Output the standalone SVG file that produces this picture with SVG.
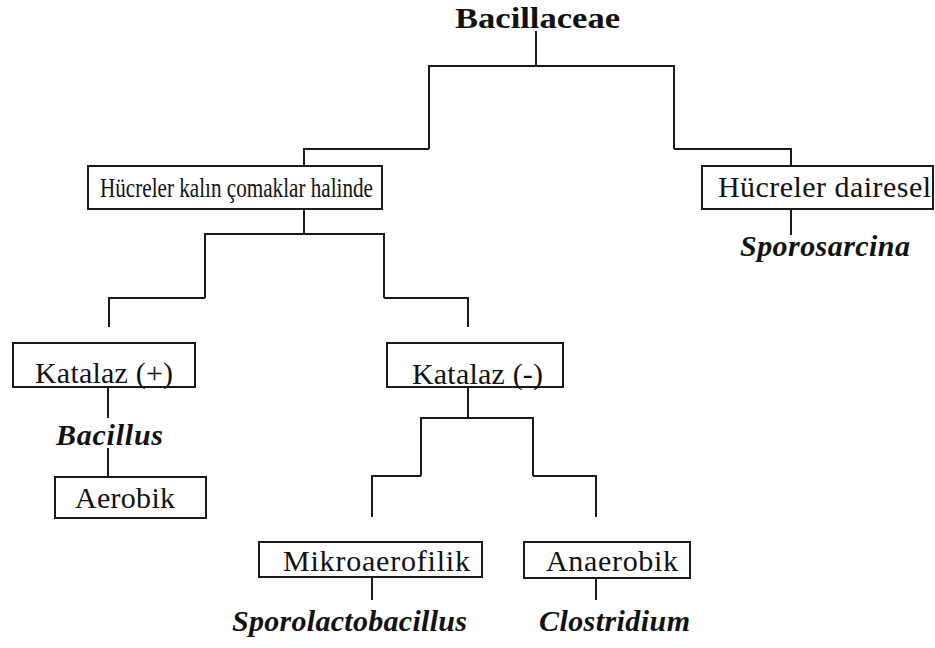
<svg xmlns="http://www.w3.org/2000/svg" width="935" height="648" viewBox="0 0 935 648">
<style>
.bx{fill:#fff;stroke:#1a1a1a;stroke-width:2}
.t{font-family:"Liberation Serif","Times New Roman",serif;font-size:30px;fill:#111}
.g{font-family:"Liberation Serif","Times New Roman",serif;font-size:30px;font-style:italic;font-weight:bold;fill:#111}
.ttl{font-family:"Liberation Serif","Times New Roman",serif;font-size:29px;font-weight:bold;fill:#111}
.c{fill:none;stroke:#1a1a1a;stroke-width:2}
</style>
<rect width="935" height="648" fill="#fff"/>
<g id="connectors">
<path class="c" d="M536,31V66M429,149V66H674V149M304,166V149H429M674,149H791V166"/>
<path class="c" d="M304,209V234M205,298V234H384V298M109,327V298H205M384,298H468V327"/>
<path class="c" d="M791,209V235"/>
<path class="c" d="M108,387V418M108,448V477"/>
<path class="c" d="M468,387V418M421,476V418H533V476M372,517V476H421M533,476H596V517"/>
<path class="c" d="M372,577V600M596,578V600"/>
</g>
<g id="bacillaceae"><text class="ttl" x="455" y="28" textLength="165" lengthAdjust="spacingAndGlyphs">Bacillaceae</text></g>
<g id="comaklar"><rect class="bx" x="88" y="166" width="294" height="43"/><text class="t" x="100" y="197" textLength="273" lengthAdjust="spacingAndGlyphs" style="font-size:28px">Hücreler kalın çomaklar halinde</text></g>
<g id="dairesel"><rect class="bx" x="702" y="166" width="231" height="43"/><text class="t" x="718" y="197" textLength="213" lengthAdjust="spacing">Hücreler dairesel</text></g>
<g id="sporosarcina"><text class="g" x="740" y="256" textLength="170" lengthAdjust="spacing">Sporosarcina</text></g>
<g id="katalaz-pos"><rect class="bx" x="13" y="343" width="182" height="44"/><text class="t" x="35" y="383" textLength="138" lengthAdjust="spacing">Katalaz (+)</text></g>
<g id="bacillus"><text class="g" x="56" y="445" textLength="107" lengthAdjust="spacing">Bacillus</text></g>
<g id="aerobik"><rect class="bx" x="55" y="477" width="151" height="41"/><text class="t" x="75" y="508" textLength="100" lengthAdjust="spacing">Aerobik</text></g>
<g id="katalaz-neg"><rect class="bx" x="387" y="343" width="176" height="44"/><text class="t" x="412" y="384" textLength="131" lengthAdjust="spacing">Katalaz (-)</text></g>
<g id="mikroaerofilik"><rect class="bx" x="259" y="542" width="223" height="35"/><text class="t" x="283" y="571" textLength="187" lengthAdjust="spacing">Mikroaerofilik</text></g>
<g id="anaerobik"><rect class="bx" x="524" y="542" width="166" height="36"/><text class="t" x="546" y="571" textLength="132" lengthAdjust="spacing">Anaerobik</text></g>
<g id="sporolactobacillus"><text class="g" x="232" y="631" textLength="235" lengthAdjust="spacing">Sporolactobacillus</text></g>
<g id="clostridium"><text class="g" x="539" y="631" textLength="151" lengthAdjust="spacing">Clostridium</text></g>
</svg>
